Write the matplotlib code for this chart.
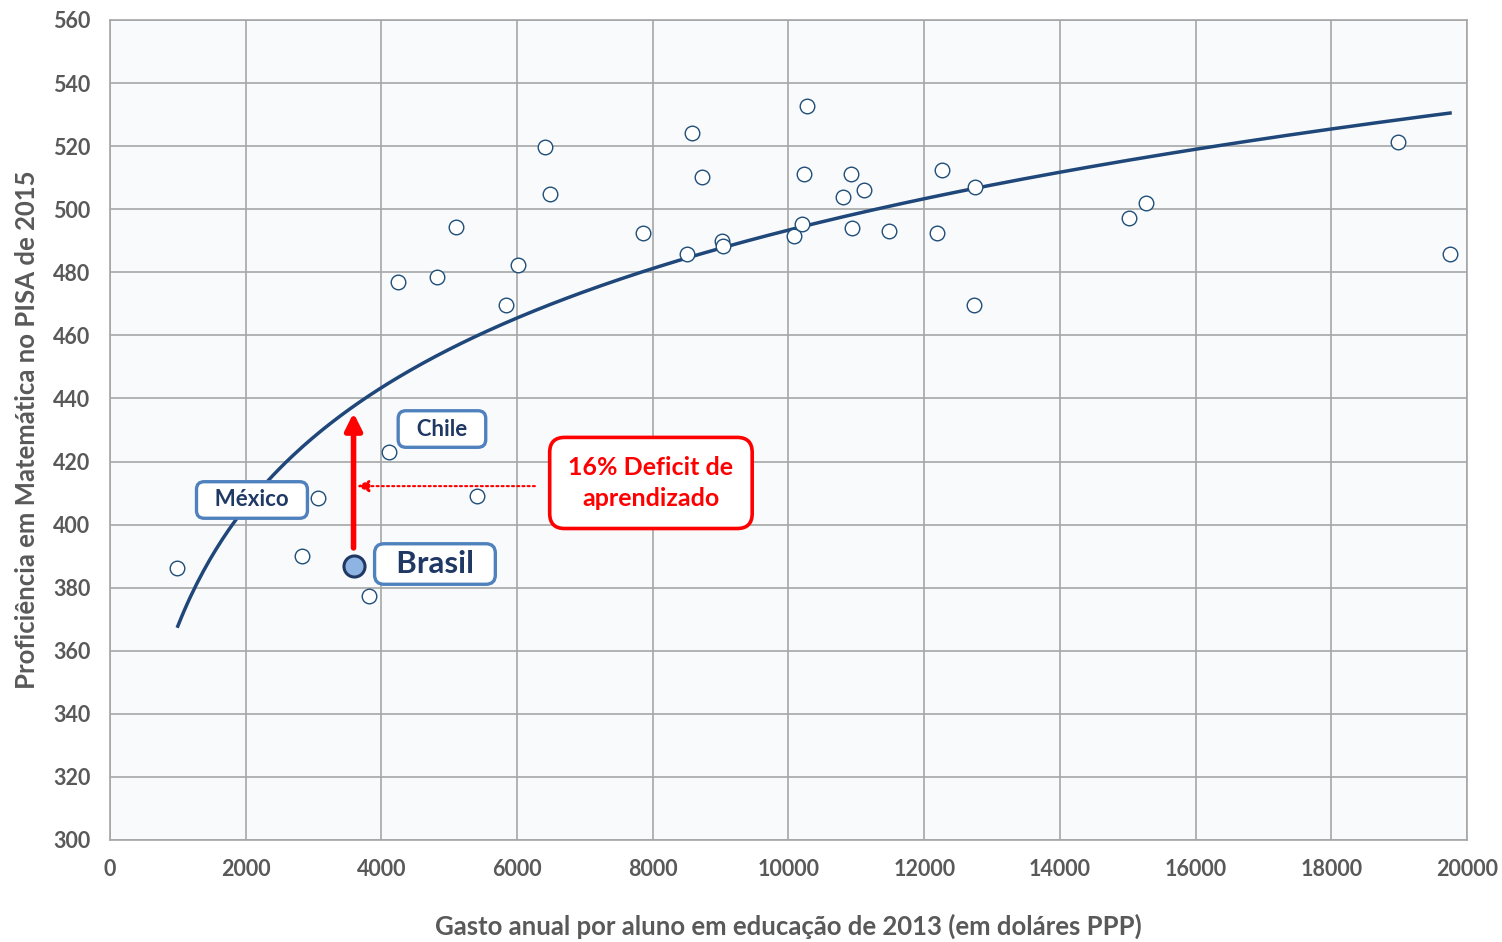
import numpy as np
import matplotlib.pyplot as plt

plt.rcParams['font.family'] = ['Lato', 'DejaVu Sans']

# gasto anual por aluno (US$ PPP) e proficiencia PISA 2015
gasto = [987, 2830, 3066, 3817, 4112, 4244, 4819, 5099, 5409, 5836, 6013, 6411,
         6485, 7855, 8504, 8577, 8725, 9020, 9035, 10081, 10199, 10228, 10273,
         10803, 10921, 10936, 11113, 11481, 12189, 12263, 12734, 12749, 15019,
         15269, 18983, 19749]
pisa = [386.2, 390.0, 408.4, 377.4, 423.0, 476.9, 478.5, 494.4, 409.0, 469.6,
        482.3, 519.7, 504.8, 492.5, 485.8, 524.2, 510.2, 489.9, 488.3, 491.5,
        495.3, 511.2, 532.7, 503.9, 511.2, 494.0, 506.1, 493.1, 492.5, 512.4,
        469.6, 507.0, 497.2, 502.0, 521.3, 485.8]
brasil_gasto = 3596
brasil_pisa = 386.9

# tendencia logaritmica (como no Excel)
all_x = np.array(gasto + [brasil_gasto])
all_y = np.array(pisa + [brasil_pisa])
b, a = np.polyfit(np.log(all_x), all_y, 1)
xs = np.linspace(1000, 19750, 400)
ys = a + b * np.log(xs)

fig = plt.figure(figsize=(15.02, 9.42), dpi=100)
ax = fig.add_axes([0.0732, 0.1083, 0.9035, 0.8705])
ax.set_facecolor('#f9fafc')

ax.plot(xs, ys, color='#1f477a', lw=2.5, zorder=3)
ax.scatter(gasto, pisa, s=110, facecolor='white', edgecolor='#1f4e79', lw=1.0, zorder=4)
ax.scatter([brasil_gasto], [brasil_pisa], s=230, facecolor='#8eb4e3', edgecolor='#1f3864', lw=2.2, zorder=5)

# setas vermelhas: deficit
ax.annotate('', xy=(3590, 435.4), xytext=(3590, 392.6),
            arrowprops=dict(arrowstyle='-|>', color='red', lw=4, mutation_scale=25,
                            shrinkA=0, shrinkB=0), zorder=6)
ax.annotate('', xy=(3640, 412.2), xytext=(6263, 412.2),
            arrowprops=dict(arrowstyle='-|>', color='red', lw=1.5, ls=(0, (1, 1.5)),
                            mutation_scale=18, shrinkA=0, shrinkB=0), zorder=6)

box = dict(boxstyle='round,pad=0.35,rounding_size=0.35', fc='white', ec='#4f81bd', lw=2.4)
ax.text(4893, 430.3, '  Chile  ', fontsize=16, fontweight='bold', color='#1f3864',
        ha='center', va='center', bbox=box, zorder=7)
ax.text(2093, 407.8, '  México  ', fontsize=16, fontweight='bold', color='#1f3864',
        ha='center', va='center', bbox=box, zorder=7)
ax.text(4790, 387.5, '  Brasil  ', fontsize=22.5, fontweight='bold', color='#1f3864',
        ha='center', va='center', bbox=dict(box, boxstyle='round,pad=0.2,rounding_size=0.3'),
        zorder=7)
ax.text(7973, 413.2, '16% Deficit de\naprendizado', fontsize=18, fontweight='bold',
        color='red', ha='center', va='center', linespacing=1.4,
        bbox=dict(boxstyle='round,pad=0.75,rounding_size=0.6', fc='white', ec='red', lw=2.6),
        zorder=7)

ax.set_xlim(0, 20000)
ax.set_ylim(300, 560)
ax.set_xticks(np.arange(0, 20001, 2000))
ax.set_yticks(np.arange(300, 561, 20))
ax.grid(True, color='#a6a6a6', lw=1.2)
ax.set_axisbelow(True)
for s in ax.spines.values():
    s.set_color('#a6a6a6')
    s.set_linewidth(1.2)
ax.tick_params(length=0, labelsize=15.5, labelcolor='#595959')
ax.tick_params(axis='x', pad=14)
ax.tick_params(axis='y', pad=14)
for lab in ax.get_xticklabels() + ax.get_yticklabels():
    lab.set_fontweight('bold')

ax.set_xlabel('Gasto anual por aluno em educação de 2013 (em doláres PPP)',
              fontsize=18.5, fontweight='bold', color='#595959', labelpad=24)
ax.set_ylabel('Proficiência em Matemática no PISA de 2015',
              fontsize=18.5, fontweight='bold', color='#595959', labelpad=10)

fig.savefig('out.png', dpi=100)
